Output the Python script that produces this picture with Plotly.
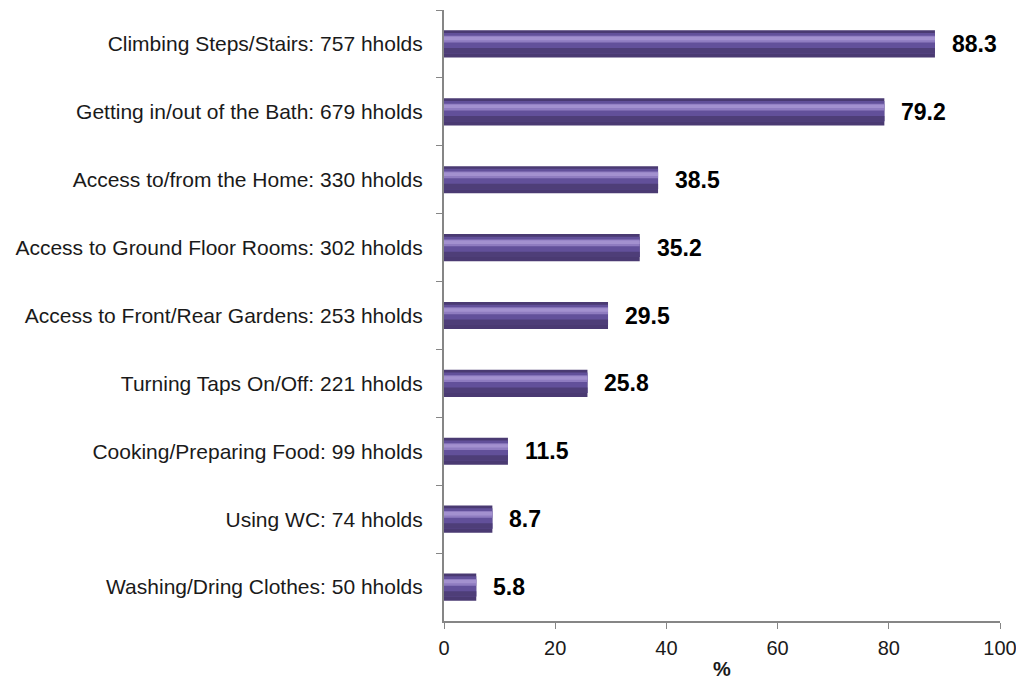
import plotly.graph_objects as go

# Data
categories = [
    "Climbing Steps/Stairs: 757 hholds",
    "Getting in/out of the Bath: 679 hholds",
    "Access to/from the Home: 330 hholds",
    "Access to Ground Floor Rooms: 302 hholds",
    "Access to Front/Rear Gardens: 253 hholds",
    "Turning Taps On/Off: 221 hholds",
    "Cooking/Preparing Food: 99 hholds",
    "Using WC: 74 hholds",
    "Washing/Dring Clothes: 50 hholds",
]
values = [88.3, 79.2, 38.5, 35.2, 29.5, 25.8, 11.5, 8.7, 5.8]

fig = go.Figure()

# layered bars to fake the glossy cylinder look: (width, offset, colour)
layers = [
    (0.40, -0.20, "#4a3a72"),
    (0.30, -0.16, "#62509a"),
    (0.10, -0.12, "#8f7cc0"),
    (0.05, -0.105, "#a391cf"),
    (0.08, 0.06, "#4e3e78"),
]
for w, off, col in layers:
    fig.add_trace(go.Bar(
        x=values, y=categories, orientation="h", width=w, offset=off,
        marker=dict(color=col, line=dict(width=0)),
        hoverinfo="skip", showlegend=False,
    ))

for c, v in zip(categories, values):
    fig.add_annotation(x=v, y=c, text=f"<b>{v}</b>", showarrow=False,
                       xanchor="left", xshift=15,
                       font=dict(size=23, color="#000000"))

# page body has an 8px margin, so the margins are shifted to compensate
fig.update_layout(
    width=1024, height=689,
    barmode="overlay",
    plot_bgcolor="white", paper_bgcolor="white",
    margin=dict(l=436, r=32, t=2, b=76),
    font=dict(family="Liberation Sans, Arial, sans-serif", size=20, color="#1a1a1a"),
)
fig.update_xaxes(
    range=[0, 100], dtick=20, showgrid=False, zeroline=False,
    showline=True, linecolor="#868686", linewidth=2,
    ticks="outside", ticklen=6, tickcolor="#868686", automargin=False,
    ticklabelstandoff=2,
    title=dict(text="<b>%</b>", standoff=4, font=dict(size=20)),
)
fig.update_yaxes(
    autorange="reversed", showgrid=False,
    showline=True, linecolor="#868686", linewidth=2,
    ticks="outside", ticklen=6, tickcolor="#868686", tickson="boundaries",
    ticklabelstandoff=15, automargin=False, tickfont=dict(size=21),
)

fig.write_html("out.html")
